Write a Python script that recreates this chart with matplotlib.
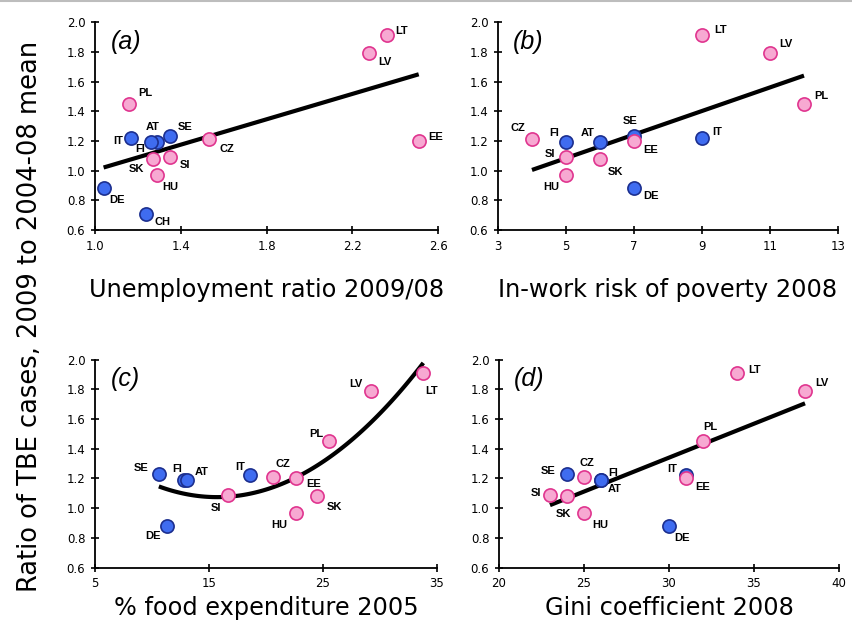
import matplotlib
matplotlib.use("Agg")
import numpy as np
import matplotlib.pyplot as plt
from matplotlib.lines import Line2D

# --- data --------------------------------------------------------------
countries = ["LT", "LV", "PL", "SE", "IT", "CZ", "EE", "FI", "AT", "SI", "SK", "HU", "DE", "CH"]
east = ["LT", "LV", "PL", "CZ", "EE", "SI", "SK", "HU"]
tbe_ratio = [1.91, 1.79, 1.45, 1.23, 1.22, 1.21, 1.20, 1.19, 1.19, 1.09, 1.08, 0.97, 0.88, 0.71]

unemployment = [2.36, 2.28, 1.16, 1.35, 1.17, 1.53, 2.51, 1.29, 1.26, 1.35, 1.27, 1.29, 1.04, 1.24]
inwork_poverty = [9, 11, 12, 7, 9, 4, 7, 5, 6, 5, 6, 5, 7, None]
food_expenditure = [33.8, 29.2, 25.5, 10.6, 18.6, 20.6, 22.6, 12.8, 13.1, 16.7, 24.5, 22.6, 11.3, None]
gini = [34, 38, 32, 24, 31, 25, 31, 26, 26, 23, 24, 25, 30, None]

# fitted trend lines (polynomial coefficients, highest power first)
trend_a = [0.427, 0.577]
trend_b = [0.0794, 0.687]
trend_c = [0.00276, -0.0867, 1.755]
trend_d = [0.0457, -0.031]

# label offsets in pixels (dx, dy, ha)
labels_a = {"LT": (9, 4, "left"), "LV": (9, -9, "left"), "EE": (10, 4, "left"),
            "PL": (9, 11, "left"), "IT": (-8, -3, "right"), "AT": (2, 15, "center"),
            "SE": (8, 9, "left"), "FI": (-12, -7, "right"), "CZ": (11, -10, "left"),
            "SK": (-9, -10, "right"), "SI": (10, -8, "left"), "HU": (5, -12, "left"),
            "DE": (6, -12, "left"), "CH": (8, -8, "left")}
labels_b = {"LT": (12, 5, "left"), "LV": (9, 9, "left"), "PL": (10, 8, "left"),
            "CZ": (-7, 11, "right"), "FI": (-7, 9, "right"), "AT": (-5, 9, "right"),
            "SE": (-4, 15, "center"), "EE": (9, -9, "left"), "IT": (10, 6, "left"),
            "SI": (-11, 3, "right"), "SK": (8, -13, "left"), "HU": (-7, -12, "right"),
            "DE": (9, -8, "left")}
labels_c = {"LT": (8, -18, "center"), "LV": (-8, 7, "right"), "PL": (-5, 7, "right"),
            "SE": (-10, 6, "right"), "FI": (-2, 11, "right"), "AT": (7, 8, "left"),
            "IT": (-5, 8, "right"), "CZ": (3, 13, "left"), "EE": (11, -6, "left"),
            "SI": (-7, -13, "right"), "SK": (9, -11, "left"), "HU": (-8, -12, "right"),
            "DE": (-6, -10, "right")}
labels_d = {"LT": (11, 3, "left"), "LV": (10, 8, "left"), "PL": (0, 14, "left"),
            "SE": (-12, 3, "right"), "CZ": (3, 14, "center"), "FI": (7, 7, "left"),
            "AT": (7, -9, "left"), "IT": (-9, 6, "right"), "EE": (9, -9, "left"),
            "SI": (-9, 2, "right"), "SK": (-4, -18, "center"), "HU": (8, -12, "left"),
            "DE": (5, -12, "left")}

PINK, PINK_EDGE = "#f7a9d2", "#e0358f"
BLUE, BLUE_EDGE = "#3f6cf0", "#1c2f8f"
LABEL_FONT = dict(family="Liberation Sans", fontsize=8, fontweight="bold")

fig = plt.figure(figsize=(8.53, 6.32), dpi=100)
fig.add_artist(Line2D([0, 1], [0.999, 0.999], color="#bdbdbd", lw=1.5))

panels = [
    ([0.1114, 0.636, 0.4021, 0.329], unemployment, trend_a, labels_a, "(a)",
     "Unemployment ratio 2009/08", (1.0, 2.6), [1.0, 1.4, 1.8, 2.2, 2.6], "{:.1f}", 18),
    ([0.5838, 0.636, 0.3986, 0.329], inwork_poverty, trend_b, labels_b, "(b)",
     "In-work risk of poverty 2008", (3, 13), [3, 5, 7, 9, 11, 13], "{:.0f}", 18),
    ([0.1114, 0.102, 0.4009, 0.329], food_expenditure, trend_c, labels_c, "(c)",
     "% food expenditure 2005", (5, 35), [5, 15, 25, 35], "{:.0f}", 4),
    ([0.585, 0.102, 0.3986, 0.329], gini, trend_d, labels_d, "(d)",
     "Gini coefficient 2008", (20, 40), [20, 25, 30, 35, 40], "{:.0f}", 4),
]

for rect, xs, trend, labels, tag, xlabel, xlim, xticks, fmt, pad in panels:
    ax = fig.add_axes(rect)
    pts = [(c, x, y) for c, x, y in zip(countries, xs, tbe_ratio) if x is not None]
    # blue (west) first, pink (east) on top
    for group in (False, True):
        gx = [x for c, x, y in pts if (c in east) == group]
        gy = [y for c, x, y in pts if (c in east) == group]
        ax.scatter(gx, gy, s=90, zorder=3,
                   color=PINK if group else BLUE,
                   edgecolors=PINK_EDGE if group else BLUE_EDGE, linewidths=1.2)
    xmin = min(x for c, x, y in pts)
    xmax = max(x for c, x, y in pts)
    xx = np.linspace(xmin, xmax, 100)
    ax.plot(xx, np.polyval(trend, xx), color="black", lw=3, zorder=2,
            solid_capstyle="butt")
    for c, x, y in pts:
        if c in labels:
            dx, dy, ha = labels[c]
            ax.annotate(c, (x, y), xytext=(dx, dy), textcoords="offset pixels",
                        ha=ha, va="center", zorder=4, **LABEL_FONT)
    ax.text(0.045, 0.905, tag, transform=ax.transAxes, fontsize=18, style="italic",
            family="Liberation Sans", va="center", ha="left")
    ax.set_xlim(*xlim)
    ax.set_ylim(0.6, 2.0)
    ax.set_xticks(xticks)
    ax.set_xticklabels([fmt.format(t) for t in xticks])
    ax.set_yticks(np.arange(0.6, 2.01, 0.2))
    ax.set_yticklabels(["{:.1f}".format(t) for t in np.arange(0.6, 2.01, 0.2)])
    ax.spines["top"].set_visible(False)
    ax.spines["right"].set_visible(False)
    ax.spines["left"].set_linewidth(1.3)
    ax.spines["bottom"].set_linewidth(1.3)
    ax.tick_params(direction="inout", length=6, width=1.2, labelsize=8.5,
                   colors="black", pad=4)
    ax.set_xlabel(xlabel, fontsize=17.3, labelpad=pad)

fig.text(0.035, 0.5, "Ratio of TBE cases, 2009 to 2004-08 mean", rotation=90,
         fontsize=18.5, va="center", ha="center")

fig.savefig("out.png", dpi=100)
